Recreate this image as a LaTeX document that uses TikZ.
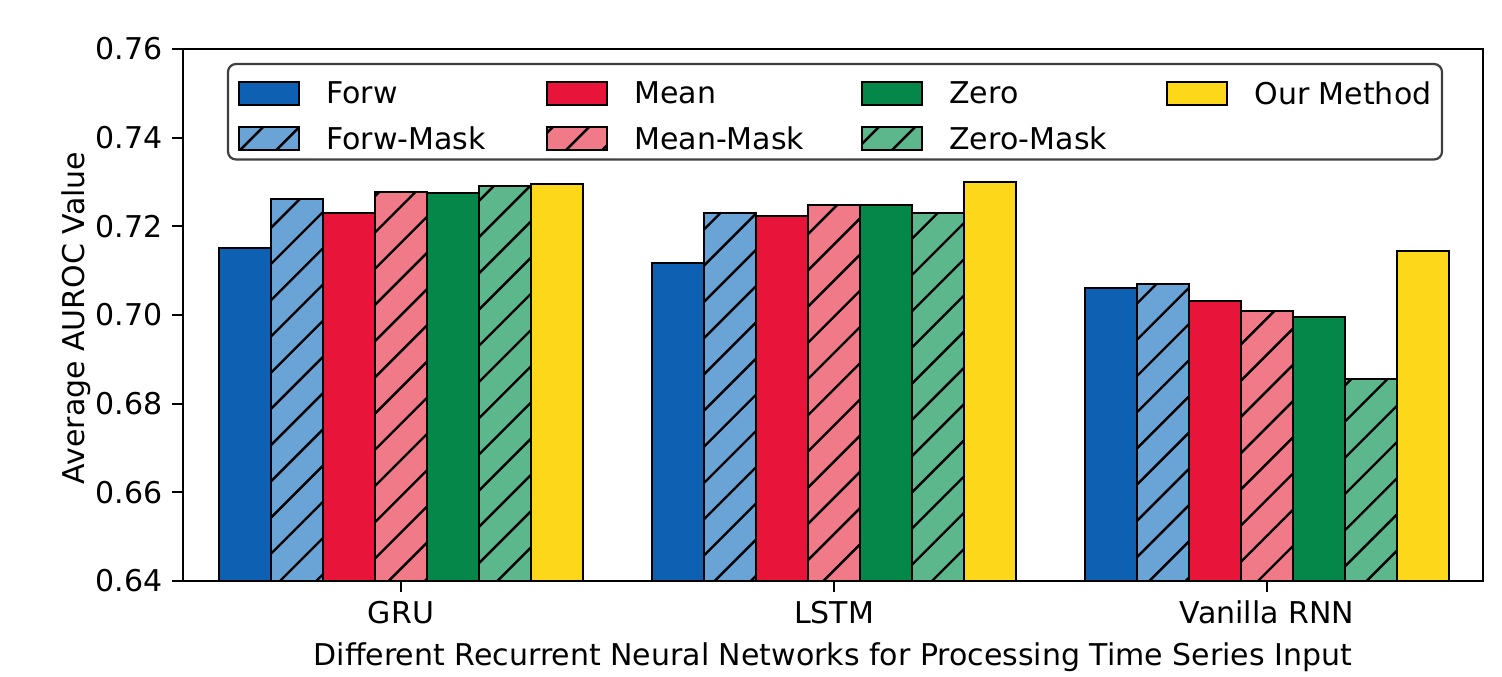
\documentclass[tikz,border=0pt]{standalone}
\usepackage{fontspec}
\setmainfont{DejaVu Sans}

% series colours
\definecolor{c0}{RGB}{14,96,178}   % Forw
\definecolor{c1}{RGB}{106,163,214} % Forw-Mask
\definecolor{c2}{RGB}{232,20,58}   % Mean
\definecolor{c3}{RGB}{240,122,136} % Mean-Mask
\definecolor{c4}{RGB}{4,135,72}    % Zero
\definecolor{c5}{RGB}{93,183,140}  % Zero-Mask
\definecolor{c6}{RGB}{252,215,26}  % Our Method

% diagonal hatch, aligned to the whole canvas, clipped to a rectangle
\newcommand\hatchrect[4]{%
  \begin{scope}
    \clip (#1,#2) rectangle (#3,#4);
    \foreach \k in {-14,...,35}
      \draw[hatchline] ({861+\k*36.22},0) -- ({861+\k*36.22-700},700);
  \end{scope}}

\begin{document}
\begin{tikzpicture}[x=0.5pt,y=-0.5pt,
  font=\fontsize{15pt}{18pt}\selectfont,
  hatchline/.style={black,line width=1.2pt},
  baredge/.style={draw=black,line width=1pt},
  spine/.style={black,line width=1.2pt},
  tickmark/.style={black,line width=1pt},
  ticklabel/.style={inner sep=0pt},
  legendframe/.style={draw=black!75,line width=1.1pt,fill=white,rounded corners=4pt}]
\useasboundingbox (0,0) rectangle (1502,676);

% bars: group centre / values of the seven series
\foreach \cx/\vals in {401/{0.7151,0.7262,0.7231,0.7277,0.7276,0.7291,0.7296},
                       834/{0.7117,0.7231,0.7223,0.7248,0.7248,0.7229,0.7299},
                       1267/{0.7060,0.7070,0.7032,0.7010,0.6995,0.6855,0.7144}}{
  \foreach \v [count=\i from 0] in \vals {
    \pgfmathsetmacro\xl{\cx-182+52*\i}
    \pgfmathsetmacro\xr{\xl+52}
    \pgfmathsetmacro\yt{581-(\v-0.64)*4433.33}
    \fill[c\i] (\xl,\yt) rectangle (\xr,581);
    \ifodd\i \hatchrect{\xl}{\yt}{\xr}{581}\fi
    \draw[baredge] (\xl,\yt) rectangle (\xr,581);
  }
}

% axes frame
\draw[spine] (183,49) rectangle (1483,581);

% y ticks and labels
\foreach \t [count=\j from 0] in {0.64,0.66,0.68,0.70,0.72,0.74,0.76}{
  \pgfmathsetmacro\yy{581-\j*88.667}
  \draw[tickmark] (172,\yy) -- (183,\yy);
  \node[ticklabel,anchor=east] (ytick\j) at (163,\yy) {\t};
}

% x ticks and labels
\foreach \cx/\lab [count=\j] in {401/GRU,834/LSTM,1267/Vanilla RNN}{
  \draw[tickmark] (\cx,581) -- (\cx,592);
  \node[ticklabel,anchor=base] (xtick\j) at (\cx,623) {\lab};
}

% axis titles
\node[ticklabel,anchor=base] (xtitle) at (833,665)
  {Different Recurrent Neural Networks for Processing Time Series Input};
\node[ticklabel,anchor=base,rotate=90] (ytitle) at (84,318) {Average AUROC Value};

% legend
\draw[legendframe] (228,64) rectangle (1442,159.5);
\foreach \px/\py/\c/\lab [count=\j] in {
    239/82/0/Forw, 239/127/1/Forw-Mask,
    547/82/2/Mean, 547/127/3/Mean-Mask,
    862/82/4/Zero, 862/127/5/Zero-Mask,
    1167/82/6/Our Method}{
  \pgfmathsetmacro\pxr{\px+60}
  \pgfmathsetmacro\pyb{\py+22.5}
  \fill[c\c] (\px,\py) rectangle (\pxr,\pyb);
  \ifodd\c \hatchrect{\px}{\py}{\pxr}{\pyb}\fi
  \draw[baredge] (\px,\py) rectangle (\pxr,\pyb);
  \node[ticklabel,anchor=west] (leg\j) at (\px+87,\py+11.25) {\lab};
}
\end{tikzpicture}
\end{document}
